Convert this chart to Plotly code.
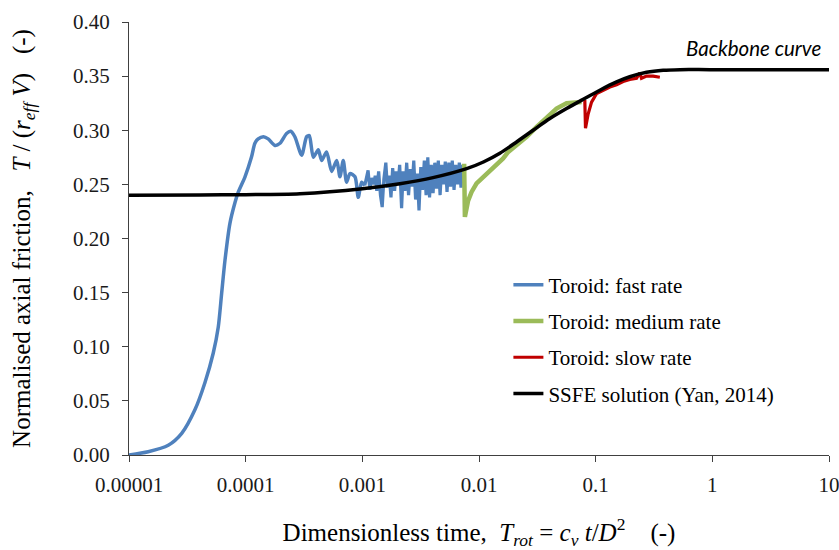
import plotly.graph_objects as go

# ---------------- data ----------------
# Toroid: fast rate (smooth rise + waves, then noisy part)
fast_x = [1.00e-5, 1.46e-5, 2.17e-5, 2.83e-5, 3.68e-5, 4.48e-5, 5.27e-5, 5.82e-5, 6.22e-5, 6.65e-5,
          7.33e-5, 8.09e-5, 8.65e-5, 9.87e-5, 1.12e-4, 1.20e-4, 1.28e-4, 1.42e-4, 1.56e-4, 1.78e-4,
          1.97e-4, 2.24e-4, 2.43e-4, 2.64e-4, 3.02e-4, 3.33e-4, 3.51e-4, 3.80e-4, 4.19e-4, 4.48e-4,
          4.94e-4, 5.46e-4, 6.03e-4, 6.43e-4, 6.86e-4, 7.33e-4, 7.83e-4, 8.65e-4, 9.23e-4, 9.86e-4,
          1.05e-3, 1.09e-3, 1.12e-3, 1.16e-3, 1.20e-3, 1.25e-3, 1.29e-3, 1.33e-3, 1.38e-3, 1.43e-3,
          1.48e-3, 1.53e-3, 1.59e-3, 1.64e-3, 1.70e-3, 1.76e-3, 1.82e-3, 1.89e-3, 1.95e-3, 2.02e-3,
          2.09e-3, 2.17e-3, 2.24e-3, 2.32e-3, 2.40e-3, 2.49e-3, 2.58e-3, 2.67e-3, 2.76e-3, 2.86e-3,
          2.96e-3, 3.06e-3, 3.17e-3, 3.28e-3, 3.40e-3, 3.52e-3, 3.64e-3, 3.77e-3, 3.90e-3, 4.04e-3,
          4.18e-3, 4.33e-3, 4.48e-3, 4.64e-3, 4.80e-3, 4.97e-3, 5.14e-3, 5.32e-3, 5.51e-3, 5.70e-3,
          5.90e-3, 6.11e-3, 6.32e-3, 6.55e-3, 6.78e-3, 7.01e-3, 7.26e-3, 7.52e-3]
fast_y = [0.000, 0.003, 0.009, 0.020, 0.042, 0.067, 0.094, 0.118, 0.149, 0.180,
          0.214, 0.233, 0.243, 0.257, 0.275, 0.288, 0.292, 0.294, 0.292, 0.286,
          0.288, 0.297, 0.299, 0.294, 0.277, 0.294, 0.295, 0.275, 0.282, 0.272,
          0.280, 0.262, 0.272, 0.257, 0.272, 0.252, 0.260, 0.257, 0.238, 0.252,
          0.249, 0.258, 0.263, 0.245, 0.256, 0.250, 0.258, 0.244, 0.262, 0.240,
          0.229, 0.255, 0.270, 0.247, 0.258, 0.238, 0.265, 0.244, 0.262, 0.250,
          0.268, 0.228, 0.262, 0.244, 0.270, 0.240, 0.264, 0.248, 0.272, 0.236,
          0.260, 0.226, 0.266, 0.245, 0.272, 0.240, 0.275, 0.238, 0.268, 0.242,
          0.270, 0.246, 0.272, 0.240, 0.268, 0.250, 0.271, 0.243, 0.270, 0.248,
          0.272, 0.245, 0.268, 0.250, 0.270, 0.247, 0.268, 0.264]
fast_smooth_count = 40   # first points form the smooth part of the curve

medium_x = [7.46e-3, 7.57e-3, 8.07e-3, 8.64e-3, 9.53e-3, 1.09e-2, 1.32e-2, 1.61e-2, 1.78e-2,
            2.10e-2, 2.56e-2, 3.12e-2, 3.80e-2, 4.62e-2, 5.63e-2, 6.86e-2, 7.57e-2]
medium_y = [0.269, 0.220, 0.235, 0.243, 0.251, 0.257, 0.265, 0.274, 0.280,
            0.286, 0.294, 0.303, 0.312, 0.320, 0.325, 0.326, 0.326]

slow_x = [8.07e-2, 8.18e-2, 8.62e-2, 9.22e-2, 0.1019, 0.1159, 0.1324, 0.151, 0.172, 0.196,
          0.224, 0.239, 0.247, 0.273, 0.311, 0.355]
slow_y = [0.328, 0.302, 0.315, 0.326, 0.334, 0.337, 0.340, 0.342, 0.345, 0.347,
          0.348, 0.353, 0.348, 0.350, 0.350, 0.349]

backbone_x = [1e-5, 4.06e-5, 1e-4, 2.92e-4, 1e-3, 2.1e-3, 4.03e-3, 7.83e-3, 1.09e-2, 1.51e-2,
              2.10e-2, 2.91e-2, 4.05e-2, 5.63e-2, 7.82e-2, 0.1086, 0.151, 0.196, 0.273, 0.379,
              0.527, 0.953, 10]
backbone_y = [0.240, 0.2402, 0.2405, 0.2414, 0.246, 0.2506, 0.2562, 0.2645, 0.2707, 0.2788,
              0.2892, 0.300, 0.3108, 0.320, 0.3286, 0.337, 0.3446, 0.3494, 0.3535, 0.3554,
              0.356, 0.356, 0.356]

x_tickvals = [1e-5, 1e-4, 1e-3, 1e-2, 1e-1, 1, 10]
x_ticktext = ["0.00001", "0.0001", "0.001", "0.01", "0.1", "1", "10"]
y_tickvals = [0.00, 0.05, 0.10, 0.15, 0.20, 0.25, 0.30, 0.35, 0.40]

names = ["Toroid: fast rate", "Toroid: medium rate", "Toroid: slow rate", "SSFE solution (Yan, 2014)"]
colors = ["#4F81BD", "#9BBB59", "#C00000", "#000000"]

SERIF = "Liberation Serif"

fig = go.Figure()
n = fast_smooth_count
# fast rate: smooth part (spline) + noisy part (linear), one legend entry
fig.add_trace(go.Scatter(x=fast_x[:n + 1], y=fast_y[:n + 1], mode="lines", name=names[0],
                         legendgroup="g0",
                         line=dict(color=colors[0], width=3.5, shape="spline", smoothing=0.7)))
fig.add_trace(go.Scatter(x=fast_x[n:], y=fast_y[n:], mode="lines", name=names[0],
                         legendgroup="g0", showlegend=False,
                         line=dict(color=colors[0], width=3.2)))
fig.add_trace(go.Scatter(x=medium_x, y=medium_y, mode="lines", name=names[1], legendgroup="g1",
                         line=dict(color=colors[1], width=4.5)))
fig.add_trace(go.Scatter(x=slow_x, y=slow_y, mode="lines", name=names[2], legendgroup="g2",
                         line=dict(color=colors[2], width=3.2)))
fig.add_trace(go.Scatter(x=backbone_x, y=backbone_y, mode="lines", name=names[3], legendgroup="g3",
                         line=dict(color=colors[3], width=3.5, shape="spline", smoothing=0.8)))

fig.add_annotation(
    text="<i>Backbone curve</i>", xref="paper", yref="paper", x=0.991, y=0.94,
    xanchor="right", yanchor="middle", showarrow=False,
    font=dict(family="Lato", size=20.5, color="#000000"),
)

axis_common = dict(
    showline=True, linecolor="#404040", linewidth=1, ticks="outside", ticklen=6,
    tickcolor="#404040", showgrid=False, zeroline=False, automargin=False,
    ticklabeloverflow="allow",
    tickfont=dict(family=SERIF, size=21, color="#1a1a1a"),
)

fig.update_layout(
    width=839, height=550,
    margin=dict(l=129, r=10, t=22, b=95),
    paper_bgcolor="white", plot_bgcolor="white",
    xaxis=dict(
        type="log", range=[-5, 1], tickvals=x_tickvals, ticktext=x_ticktext,
        ticklabelstandoff=5,
        title=dict(
            text="Dimensionless time,\u00a0\u00a0<i>T</i><sub><i>rot</i></sub> = <i>c</i><sub><i>v</i></sub> <i>t</i>/<i>D</i><sup>2</sup>\u00a0\u00a0\u00a0\u00a0(-)",
            font=dict(family=SERIF, size=25, color="#000000"), standoff=32),
        **axis_common,
    ),
    yaxis=dict(
        range=[0, 0.40], tickvals=y_tickvals, tickformat=".2f",
        ticklabelstandoff=8,
        title=dict(
            text="Normalised axial friction,\u00a0\u00a0\u00a0<i>T</i> / (<i>r</i><sub><i>eff</i></sub> <i>V</i>)\u00a0\u00a0\u00a0(-)",
            font=dict(family=SERIF, size=25, color="#000000"), standoff=35),
        **axis_common,
    ),
    legend=dict(
        x=0.542, y=0.44, xanchor="left", yanchor="top",
        font=dict(family=SERIF, size=21, color="#000000"),
        bgcolor="rgba(0,0,0,0)", tracegroupgap=6, traceorder="grouped",
    ),
    showlegend=True,
)

fig.write_html("out.html")
